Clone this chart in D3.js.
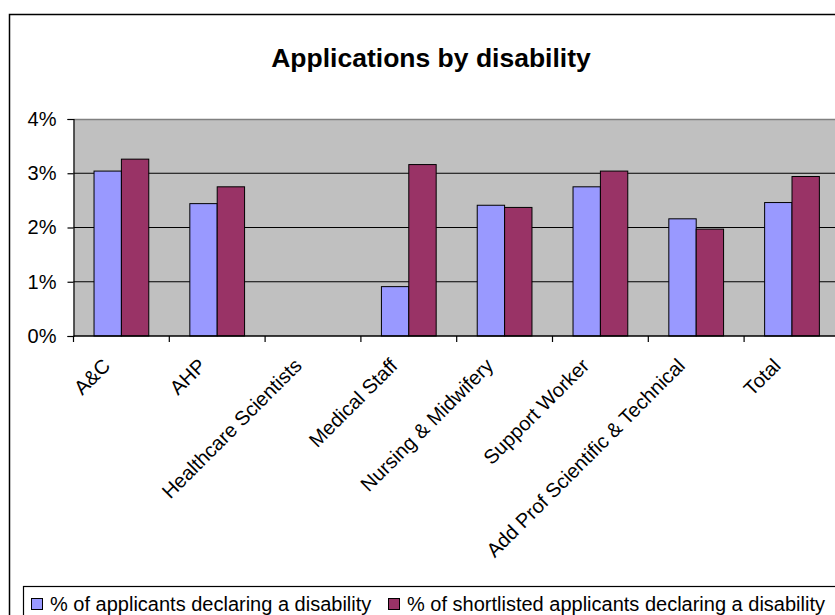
<!DOCTYPE html>
<meta charset="utf-8">
<style>
    body {
        margin: 0;
        background-color: white;
    }

    text {
        font-family: "Liberation Sans", Arial, sans-serif;
        fill: black;
    }
</style>

<body>
    <script src="https://d3js.org/d3.v7.min.js"></script>

    <script>
        var width = 835,
            height = 615;

        // data (percent)
        const categories = ["A&C", "AHP", "Healthcare Scientists", "Medical Staff",
            "Nursing & Midwifery", "Support Worker", "Add Prof Scientific & Technical", "Total"]
        const applicants = [3.04, 2.44, null, 0.91, 2.41, 2.75, 2.16, 2.46]
        const shortlisted = [3.26, 2.75, null, 3.16, 2.37, 3.04, 1.97, 2.94]
        const seriesNames = ["% of applicants declaring a disability",
            "% of shortlisted applicants declaring a disability"]
        const seriesColors = ["#9999ff", "#993366"]
        const yTicks = [0, 1, 2, 3, 4]

        var svg = d3.select("body").append("svg")
            .attr("width", width)
            .attr("height", height)

        // chart frame (runs off the right and bottom edges)
        svg.append("rect")
            .attr("x", 9.5)
            .attr("y", 14.5)
            .attr("width", 845)
            .attr("height", 620)
            .attr("fill", "white")
            .attr("stroke", "black")
            .attr("stroke-width", 1.5)

        svg.append("text")
            .attr("x", 431)
            .attr("y", 67)
            .attr("text-anchor", "middle")
            .style("font-size", "26.5px")
            .style("font-weight", "bold")
            .text("Applications by disability")

        const plotLeft = 73.5, plotTop = 119, plotBottom = 336

        var x = d3.scaleBand()
            .domain(categories)
            .range([plotLeft, plotLeft + 95.8 * categories.length])
            .paddingInner(0)

        var y = d3.scaleLinear()
            .domain([0, 4])
            .range([plotBottom, plotTop])

        var x1 = d3.scaleBand()
            .domain([0, 1])
            .range([0, x.bandwidth()])
            .paddingOuter(0.75)
            .paddingInner(0)

        var plotRight = x.range()[1]

        // plot area
        svg.append("rect")
            .attr("x", plotLeft)
            .attr("y", plotTop)
            .attr("width", plotRight - plotLeft)
            .attr("height", plotBottom - plotTop)
            .attr("fill", "#c0c0c0")

        svg.append("line")
            .attr("x1", plotLeft).attr("x2", plotRight)
            .attr("y1", plotTop + 0.5).attr("y2", plotTop + 0.5)
            .attr("stroke", "#808080")
            .attr("stroke-width", 1.5)

        svg.selectAll(".grid")
            .data(yTicks.slice(1, 4))
            .enter().append("line")
            .attr("class", "grid")
            .attr("x1", plotLeft).attr("x2", plotRight)
            .attr("y1", d => y(d)).attr("y2", d => y(d))
            .attr("stroke", "black")
            .attr("stroke-width", 1.2)

        // bars
        var series = [applicants, shortlisted]
        series.forEach(function (vals, s) {
            svg.append("g").selectAll("rect")
                .data(categories.map((c, i) => ({ cat: c, v: vals[i] })).filter(d => d.v != null))
                .enter().append("rect")
                .attr("x", d => x(d.cat) + x1(s))
                .attr("y", d => y(d.v))
                .attr("width", x1.bandwidth())
                .attr("height", d => plotBottom - y(d.v))
                .attr("fill", seriesColors[s])
                .attr("stroke", "black")
                .attr("stroke-width", 1)
        })

        // y axis
        var yAxis = svg.append("g")
            .attr("transform", "translate(" + plotLeft + ",0)")
            .call(d3.axisLeft(y).tickValues(yTicks).tickFormat(d => d + "%").tickSize(6).tickPadding(11))
        yAxis.select(".domain").attr("stroke", "black").attr("stroke-width", 1.2)
        yAxis.selectAll(".tick line").attr("stroke", "black").attr("stroke-width", 1.2)
        yAxis.selectAll("text")
            .style("font-size", "20px")
            .style("font-family", "'Liberation Sans', Arial, sans-serif")
            .attr("fill", "black")

        // x axis
        svg.append("line")
            .attr("x1", plotLeft).attr("x2", plotRight)
            .attr("y1", plotBottom).attr("y2", plotBottom)
            .attr("stroke", "black")
            .attr("stroke-width", 1.5)

        svg.selectAll(".xtick")
            .data(categories)
            .enter().append("line")
            .attr("class", "xtick")
            .attr("x1", d => x(d)).attr("x2", d => x(d))
            .attr("y1", plotBottom).attr("y2", plotBottom + 6)
            .attr("stroke", "black")
            .attr("stroke-width", 1.2)

        svg.selectAll(".xlabel")
            .data(categories)
            .enter().append("text")
            .attr("class", "xlabel")
            .attr("text-anchor", "end")
            .attr("transform", d => "translate(" + (x(d) + x.bandwidth() / 2 - 10) + ",367) rotate(-45)")
            .style("font-size", "20px")
            .text(d => d)

        // legend
        svg.append("rect")
            .attr("x", 23.5)
            .attr("y", 586.5)
            .attr("width", 830)
            .attr("height", 60)
            .attr("fill", "white")
            .attr("stroke", "black")
            .attr("stroke-width", 1.2)

        var legendX = [31, 388]
        seriesNames.forEach(function (name, s) {
            svg.append("rect")
                .attr("x", legendX[s] + 0.5)
                .attr("y", 598.5)
                .attr("width", 11)
                .attr("height", 11)
                .attr("fill", seriesColors[s])
                .attr("stroke", "black")
                .attr("stroke-width", 1)
            svg.append("text")
                .attr("x", legendX[s] + 19)
                .attr("y", 611)
                .style("font-size", "20px")
                .text(name)
        })
    </script>
</body>

</html>
